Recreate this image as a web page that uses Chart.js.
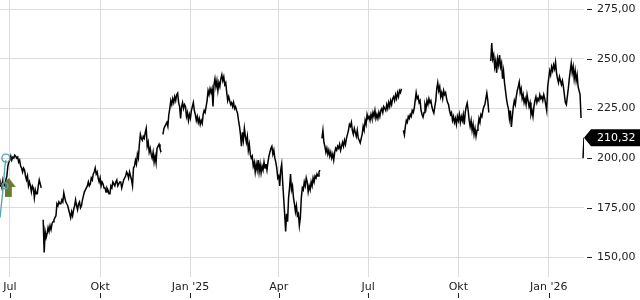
<!DOCTYPE html>
<html>
<head>
<meta charset="utf-8">
<script src="https://cdn.jsdelivr.net/npm/chart.js@4.4.1/dist/chart.umd.min.js"></script>
<style>
  html, body { margin: 0; padding: 0; background: #fff; }
</style>
</head>
<body>
<canvas id="chart" width="640" height="300"></canvas>
<script>
// Tageswerte ab 21.06.2024 (Index = Kalendertag), null = Lücke im Kursverlauf
const prices = [
    186, 187, 185, 189, 187, 186, 189, 191, 196, 198,
    199, 201, 199, 200.5, 200, 201.5, 201, 200, 200.5, 198,
    199, 196, 195, 193, 195, 194, 191, 189, 191, 186,
    188, 186, 183, 186, 185, 180, 184, 182, 182, 186,
    189, 187, 185, null,
    169, 152.5, 163, 160, 162, 165, 163,
    166, 164, 167, 168, 169, 170,
    171, 177, 176, 178, 177,
    177, 179, 178, 182.5, 180, 178, 177, 176, 174, 172,
    170, 173, 171, 174, 176, 179, 176, 174, 177, 178,
    175, 176, 179, 181, 183, 184, 185, 186, 188, 186,
    187, 190, 189, 192, 193, 195, 192, 193, 190, 188,
    190, 186, 188, 187, 185, 185, 183, 185, 184, 182,
    182, 186, 185, 188, 187, 186, 188, 189, 186, 187,
    188, 188, 185, 187, 189, 190, 191, 193, 192, 190,
    193, 191, 189, 186, 195, 196, 199, 197, 202, 200,
    207, 212, 210, 209, 211, 210, 213, 215, 206, 208,
    203, 205, 202, 200, 203, 198, 201, 197.6, 205, 206,
    207, 205, 203, null,
    212, 215, 216, 217, 218, 216, 222, 225,
    229, 227, 230, 228, 231, 229, 232, 232.8, 228, 226,
    220, 226, 228, 225, 227, 226, 221, 223, 219, 222,
    220, 224, 226, 228, 224, 222, 219, 221, 218, 220,
    217, 219, 217.5, 222, 224, 223, 226, 229, 234, 232,
    235, 233, 235, 226, 237, 240, 236, 239, 234, 238,
    236, 240, 242, 239, 241, 237, 238, 233, 229, 231,
    229, 227, 228, 226, 228, 225, 226, 224, 222.7, 219,
    216, 212, 206, 213, 209, 215, 211, 208, 211, 204,
    207, 202, 200, 201, 196, 198, 193, 197, 194, 199,
    193, 197, 192.6, 196, 194, 198, 195, 197, 194, 198,
    201, 203, 205, 206, 202, 204, 200,
    198, 195, 190, 191,
    186, 194, 197, 188, 180, 172, 163, 172, 168, 180,
    185, 192, 184, 186, 180, 177, 173, 176, 171, 172,
    166, 170, 180, 185, 184, 188, 186, 190, 188, 183,
    186, 184, 188, 186, 190, 188, 191, 190, 192, 191,
    193, 194, null,
    210, 214, 208, 206, 203, 205, 202, 204,
    201, 203, 200, 202, 199, 203, 205, 204, 206, 205,
    207, 204, 206, 208, 206, 209, 207, 210, 212, 214,
    217, 216, 218, 214, 212, 215, 213, 211, 214, 210,
    209, 207.7, 210, 212, 216, 214, 219, 217, 222, 220,
    221, 219, 222, 220, 223, 221, 224, 220, 222, 220,
    223, 221, 224, 225, 223, 226, 225,
    224, 227, 225, 228,
    226, 229, 227, 230, 231, 229, 232, 230, 233, 231,
    234, 233, 235, null,
    214, 211.7, 216, 219, 218, 221, 220,
    222, 221, 224, 223, 225, 229, 233, 230, 231, 228,
    229, 224, 222, 220.7, 223, 227, 225, 229, 227, 230,
    228, 229, 226, 224, 222.7, 226, 229, 235, 238, 234,
    236, 231, 233, 230, 234, 232, 233, 230, 228, 227,
    224, 222, 223, 219, 221, 218, 220, 217, 221, 219,
    222, 218, 221, 219, 222, 217, 223, 226, 227.8, 224,
    219, 216, 219, 214, 217, 212, 215, 211, 214, 216,
    220, 218, 222, 221, 224, 226, 227, 230, 232.8, 229,
    223, null,
    249, 258, 250, 252, 246,
    249, 243, 250, 247,
    252, 246, 248, 240, 244, 238, 234, 230, 227, 225,
    220, 224, 215.7, 221, 226, 229, 227, 231, 234, 236,
    238.3, 233, 235, 230, 232, 228, 230, 227, 232, 229,
    226, 228, 222, 224, 221, 226, 229, 231, 228, 230,
    229, 232, 230, 231, 229, 232, 230, 227, 224, 236,
    240, 244, 242, 246, 244, 247, 245, 248.4, 243, 240,
    238, 241, 239, 237, 239, 236, 232, 228, 227, 231,
    235, 240, 244, 247.8, 243, 246, 240, 244, 239, 242,
    236, 234, 232, 220.2, null, 200, 210.32
];

// Achsen
const tickDays = [10, 102, 194, 284, 375, 467, 559];
const tickLabels = ['Jul', 'Okt', "Jan '25", 'Apr', 'Jul', 'Okt', "Jan '26"];
const yTicks = [150, 175, 200, 225, 250, 275];
const lastPrice = 210.32;

// Markierungen am linken Rand
const pathDays = [0, 3, 5, 6];
const pathValues = [170, 184, 196, 199];
const ringDays = [6, 5];
const ringValues = [200, 186];
const arrowDays = [11];
const arrowValues = [185];

function deNum(v) {
    return v.toFixed(2).replace('.', ',');
}

// Chart.js soll keinen Rand für überstehende Beschriftungen reservieren
function noPadding(axis) {
    axis.paddingTop = 0;
    axis.paddingBottom = 0;
    axis.paddingLeft = 0;
    axis.paddingRight = 0;
}

// Kaufpfeil als eigenes Punktsymbol
function makeArrow() {
    const c = document.createElement('canvas');
    c.width = 12;
    c.height = 20;
    const g = c.getContext('2d');
    g.fillStyle = '#6b7a32';
    g.beginPath();
    g.moveTo(4, 0);
    g.lineTo(11, 9);
    g.lineTo(7, 9);
    g.lineTo(7, 19);
    g.lineTo(0, 19);
    g.lineTo(0, 4);
    g.closePath();
    g.fill();
    return c;
}

// kleine Striche an den Achsen + Kursfahne rechts
const extrasPlugin = {
    id: 'extras',
    afterDraw(chart) {
        const ctx = chart.ctx;
        const x = chart.scales.x;
        const y = chart.scales.y;
        ctx.save();
        ctx.strokeStyle = '#222';
        ctx.lineWidth = 1;
        ctx.beginPath();
        y.ticks.forEach(t => {
            const py = Math.round(y.getPixelForValue(t.value)) + 0.5;
            ctx.moveTo(587, py);
            ctx.lineTo(592, py);
        });
        x.ticks.forEach(t => {
            const px = Math.round(x.getPixelForValue(t.value)) + 0.5;
            ctx.moveTo(px, 293);
            ctx.lineTo(px, 298);
        });
        ctx.stroke();

        // Kursfahne
        const py = y.getPixelForValue(lastPrice);
        const left = chart.chartArea.right;
        ctx.fillStyle = '#000';
        ctx.beginPath();
        ctx.moveTo(left, py);
        ctx.lineTo(left + 7, py - 8.5);
        ctx.lineTo(640, py - 8.5);
        ctx.lineTo(640, py + 8.5);
        ctx.lineTo(left + 7, py + 8.5);
        ctx.closePath();
        ctx.fill();
        ctx.fillStyle = '#fff';
        ctx.font = '11px "DejaVu Sans"';
        ctx.textBaseline = 'middle';
        ctx.textAlign = 'left';
        ctx.fillText(deNum(lastPrice), 597, py + 0.5);
        ctx.restore();
    }
};

const toPoints = (xs, ys) => xs.map((d, i) => ({ x: d, y: ys[i] }));

new Chart(document.getElementById('chart'), {
    type: 'line',
    data: {
        datasets: [
            {
                data: toPoints(pathDays, pathValues),
                borderColor: '#56a3ad',
                borderWidth: 1.3,
                pointRadius: 0,
                order: 0
            },
            {
                data: toPoints(ringDays, ringValues),
                showLine: false,
                pointRadius: [4, 3],
                pointBorderColor: '#56a3ad',
                pointBackgroundColor: 'rgba(0,0,0,0)',
                pointBorderWidth: 1.3,
                order: 0
            },
            {
                data: toPoints(arrowDays, arrowValues),
                showLine: false,
                pointStyle: makeArrow(),
                pointRadius: 10,
                order: 0
            },
            {
                data: prices.map((v, i) => ({ x: i, y: v })),
                borderColor: '#000',
                borderWidth: 1.5,
                pointRadius: 0,
                tension: 0,
                spanGaps: false,
                order: 1
            }
        ]
    },
    options: {
        responsive: false,
        animation: false,
        events: [],
        layout: { padding: 0, autoPadding: false },
        plugins: {
            legend: { display: false },
            tooltip: { enabled: false }
        },
        scales: {
            x: {
                type: 'linear',
                min: 0,
                max: prices.length - 1,
                afterBuildTicks: axis => { axis.ticks = tickDays.map(v => ({ value: v })); },
                afterFit: axis => { axis.height = 23; noPadding(axis); },
                ticks: {
                    autoSkip: false,
                    maxRotation: 0,
                    padding: 4,
                    color: '#222',
                    font: { family: 'DejaVu Sans', size: 11 },
                    callback: v => tickLabels[tickDays.indexOf(v)]
                },
                grid: { color: '#dcdcdc', drawTicks: false },
                border: { display: false }
            },
            y: {
                position: 'right',
                min: 140.1,
                max: 279.7,
                afterBuildTicks: axis => { axis.ticks = yTicks.map(v => ({ value: v })); },
                afterFit: axis => { axis.width = 56; noPadding(axis); },
                ticks: {
                    padding: 13,
                    color: '#222',
                    font: { family: 'DejaVu Sans', size: 11 },
                    callback: v => deNum(v)
                },
                grid: { color: '#dcdcdc', drawTicks: false },
                border: { display: false }
            }
        }
    },
    plugins: [extrasPlugin]
});
</script>
</body>
</html>
